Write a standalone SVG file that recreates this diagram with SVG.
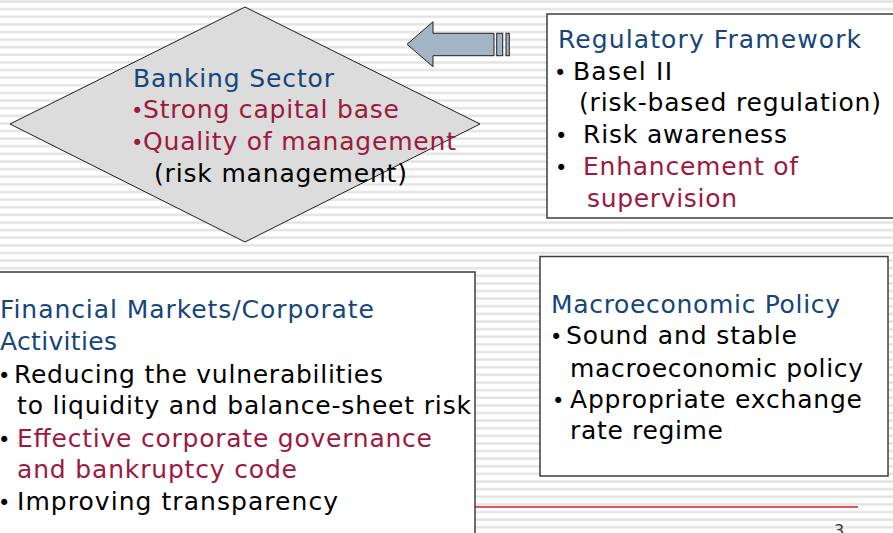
<svg xmlns="http://www.w3.org/2000/svg" width="893" height="533" viewBox="0 0 893 533">
  <defs>
    <pattern id="stripes" patternUnits="userSpaceOnUse" x="0" y="0" width="16" height="7.62">
      <rect x="0" y="0" width="16" height="7.62" fill="#ffffff"/>
      <rect x="0" y="0.3" width="16" height="2.4" fill="#e3e3e3"/>
    </pattern>
    <style>
      text { font-family: "DejaVu Sans", Verdana, sans-serif; font-size: 25px; }
      text.bul { font-size: 21px; }
      .title { fill: #16457a; }
      .em { fill: #9e1840; }
      .body { fill: #000000; }
      .box { fill: #ffffff; stroke: #3c3c3c; stroke-width: 1.5; }
    </style>
  </defs>

  <!-- slide background -->
  <rect x="0" y="0" width="893" height="533" fill="url(#stripes)"/>

  <!-- footer rule and page number -->
  <line x1="300" y1="507" x2="858" y2="507" stroke="#cc1f2a" stroke-width="1.5"/>
  <text x="834" y="536" style="font-size:16px" fill="#333333">3</text>

  <g id="connectors">
    <!-- block arrow pointing from the regulatory framework to the banking sector -->
    <polygon points="407,44.3 433,21.7 433,33.3 494,33.3 494,55.7 433,55.7 433,66.7" fill="#a3b4c4" stroke="#222222" stroke-width="1"/>
    <rect x="496.7" y="33.3" width="6" height="22.4" fill="#a3b4c4" stroke="#222222" stroke-width="1"/>
    <rect x="506" y="33.3" width="3.3" height="22.4" fill="#a3b4c4" stroke="#222222" stroke-width="1"/>
  </g>

  <g id="banking-sector">
    <polygon points="245,7 480,124 245,242 10,124" fill="#dcdcdc" stroke="#1e1e1e" stroke-width="1"/>
    <text class="title" x="133" y="87" textLength="201" lengthAdjust="spacing">Banking Sector</text>
    <text class="em bul" x="131" y="118">•</text>
    <text class="em" x="143" y="118" textLength="256" lengthAdjust="spacing">Strong capital base</text>
    <text class="em bul" x="131" y="150">•</text>
    <text class="em" x="143" y="150" textLength="313" lengthAdjust="spacing">Quality of management</text>
    <text class="body" x="154" y="182" textLength="253" lengthAdjust="spacing">(risk management)</text>
  </g>

  <g id="regulatory-framework">
    <rect class="box" x="547" y="14" width="352" height="204"/>
    <text class="title" x="558" y="48" textLength="303" lengthAdjust="spacing">Regulatory Framework</text>
    <text class="body bul" x="554" y="80">•</text>
    <text class="body" x="573" y="80" textLength="99" lengthAdjust="spacing">Basel II</text>
    <text class="body" x="579" y="111" textLength="302" lengthAdjust="spacing">(risk-based regulation)</text>
    <text class="body bul" x="555" y="143">•</text>
    <text class="body" x="583" y="143" textLength="204" lengthAdjust="spacing">Risk awareness</text>
    <text class="body bul" x="555" y="175">•</text>
    <text class="em" x="583" y="175" textLength="215" lengthAdjust="spacing">Enhancement of</text>
    <text class="em" x="587" y="207" textLength="150" lengthAdjust="spacing">supervision</text>
  </g>

  <g id="financial-markets">
    <rect class="box" x="-5" y="272" width="480" height="300"/>
    <text class="title" x="0" y="318" textLength="374" lengthAdjust="spacing">Financial Markets/Corporate</text>
    <text class="title" x="0" y="350" textLength="117" lengthAdjust="spacing">Activities</text>
    <text class="body bul" x="-2" y="383">•</text>
    <text class="body" x="14" y="383" textLength="369" lengthAdjust="spacing">Reducing the vulnerabilities</text>
    <text class="body" x="17" y="414" textLength="454" lengthAdjust="spacing">to liquidity and balance-sheet risk</text>
    <text class="body bul" x="-2" y="447">•</text>
    <text class="em" x="17" y="447" textLength="415" lengthAdjust="spacing">Effective corporate governance</text>
    <text class="em" x="17" y="478" textLength="280" lengthAdjust="spacing">and bankruptcy code</text>
    <text class="body bul" x="-2" y="510">•</text>
    <text class="body" x="17" y="510" textLength="321" lengthAdjust="spacing">Improving transparency</text>
  </g>

  <g id="macroeconomic-policy">
    <rect class="box" x="540" y="256.5" width="348" height="219.5"/>
    <text class="title" x="551" y="313" textLength="289" lengthAdjust="spacing">Macroeconomic Policy</text>
    <text class="body bul" x="550" y="344">•</text>
    <text class="body" x="566" y="344" textLength="231" lengthAdjust="spacing">Sound and stable</text>
    <text class="body" x="570" y="377" textLength="293" lengthAdjust="spacing">macroeconomic policy</text>
    <text class="body bul" x="552" y="408">•</text>
    <text class="body" x="570" y="408" textLength="292" lengthAdjust="spacing">Appropriate exchange</text>
    <text class="body" x="570" y="439" textLength="153" lengthAdjust="spacing">rate regime</text>
  </g>
</svg>
